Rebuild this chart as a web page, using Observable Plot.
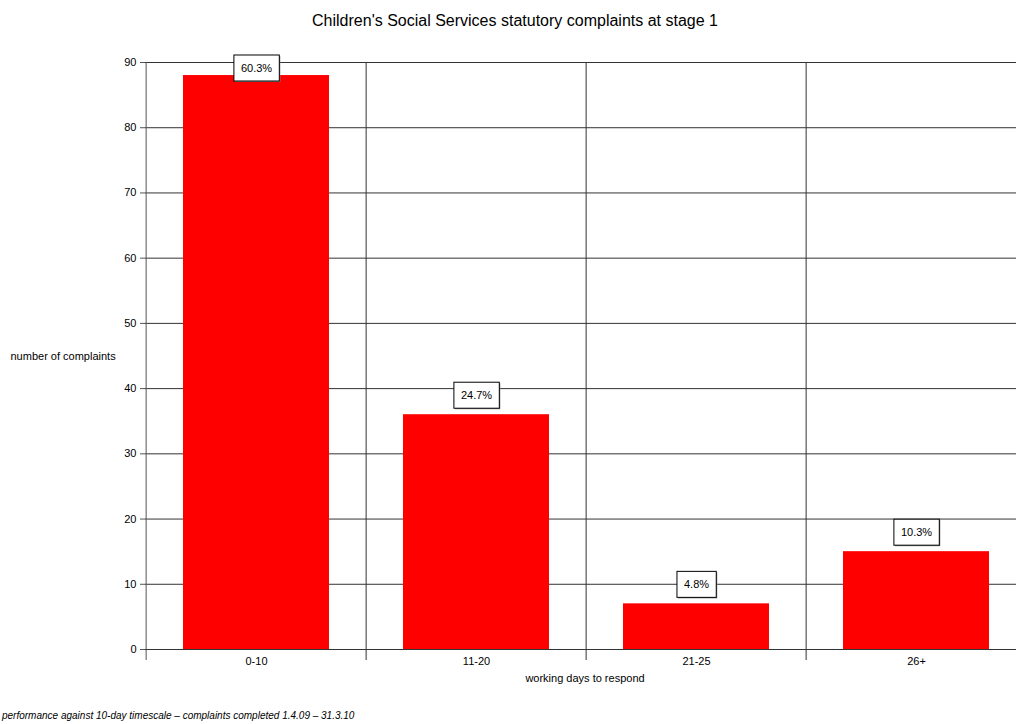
<!DOCTYPE html>
<html><head><meta charset="utf-8">
<script src="https://cdn.jsdelivr.net/npm/d3@7"></script>
<script src="https://cdn.jsdelivr.net/npm/@observablehq/plot@0.6"></script>
<style>
body{margin:0;background:#fff;font-family:"Liberation Sans",Arial,sans-serif;}
#wrap{position:relative;width:1016px;height:724px;overflow:hidden;background:#fff;}
#title{position:absolute;top:12px;left:0;width:1030px;text-align:center;font-size:16px;color:#000;}
#chart{position:absolute;top:45px;left:0;}
#note{position:absolute;left:2px;top:710px;font-size:10px;font-style:italic;color:#000;white-space:nowrap;}
</style></head><body>
<div id="wrap">
<div id="title">Children's Social Services statutory complaints at stage 1</div>
<div id="chart"></div>
<div id="note">performance against 10-day timescale – complaints completed 1.4.09 – 31.3.10</div>
</div>
<script>
const categories = ["0-10", "11-20", "21-25", "26+"];
const counts = [88, 36, 7, 15];
const percents = ["60.3%", "24.7%", "4.8%", "10.3%"];
const yTicks = [0, 10, 20, 30, 40, 50, 60, 70, 80, 90];
const xLabel = "working days to respond";
const yLabel = "number of complaints";

const data = categories.map((c, i) => ({cat: c, count: counts[i], pct: percents[i]}));

const xRange = [145, 1028];
const step = (xRange[1] - xRange[0]) / categories.length;
const gridColor = "#333";

const plot = Plot.plot({
  width: 1016,
  height: 655,
  marginTop: 17,
  marginBottom: 51,
  marginLeft: 145,
  marginRight: 0,
  style: {fontFamily: "'Liberation Sans', Arial, sans-serif", fontSize: "11px", color: "#000", background: "#fff", overflow: "visible"},
  x: {domain: categories, range: xRange, paddingInner: 0.335, paddingOuter: 0.1675},
  y: {domain: [0, 90]},
  marks: [
    Plot.ruleY(yTicks, {stroke: gridColor, strokeWidth: 1}),
    Plot.ruleX(categories.slice(1), {dx: -step / 2, y1: 90, y2: 0, insetBottom: -11, stroke: gridColor}),
    Plot.ruleX(categories.slice(-1), {dx: step / 2, y1: 90, y2: 0, insetBottom: -11, stroke: gridColor}),
    Plot.barY(data, {x: "cat", y: "count", fill: "#ff0000"}),
    Plot.ruleX(categories.slice(0, 1), {dx: -step / 2, y1: 90, y2: 0, insetBottom: -11, stroke: "#555"}),
    Plot.ruleY([0], {stroke: "#333"}),
    Plot.axisY({ticks: yTicks, tickSize: 5, tickPadding: 4, label: null, stroke: "#555"}),
    Plot.axisX({tickSize: 0, tickPadding: 8, label: null}),
    Plot.text(data, {x: "cat", y: "count", text: "pct", dy: -19, fill: "#000"}),
    Plot.text([xLabel], {frameAnchor: "bottom", dy: 32, dx: 4}),
    Plot.text([yLabel], {frameAnchor: "left", dx: -135, textAnchor: "start"})
  ]
});

document.getElementById("chart").append(plot);

// draw label boxes around the percentage labels
const yRange = plot.scale("y").range;
const plotTop = Math.min(...yRange);
const svgRect = plot.getBoundingClientRect();
const pctSet = new Set(percents);
Array.from(plot.querySelectorAll("text")).filter(t => pctSet.has(t.textContent)).forEach(function (node) {
  const b = node.getBBox();
  const w = b.width + 14, h = 26;
  const cx = b.x + b.width / 2, cy = b.y + b.height / 2;
  const r = node.getBoundingClientRect();
  const gcy = r.top + r.height / 2 - svgRect.top;
  const minCy = plotTop + 6;
  const shift = gcy < minCy ? minCy - gcy : 0;
  const parent = node.parentNode;
  const g = document.createElementNS("http://www.w3.org/2000/svg", "g");
  g.setAttribute("transform", `translate(0,${shift})`);
  parent.insertBefore(g, node);
  const T = node.getAttribute("transform") || "";
  d3.select(g).append("rect")
    .attr("transform", T).attr("x", cx - w / 2 + 1).attr("y", cy - h / 2 + 1)
    .attr("width", w).attr("height", h).attr("fill", "#888");
  d3.select(g).append("rect")
    .attr("transform", T).attr("x", cx - w / 2).attr("y", cy - h / 2)
    .attr("width", w).attr("height", h).attr("fill", "#fff").attr("stroke", "#000").attr("stroke-width", 1);
  g.appendChild(node);
});
</script>
</body></html>
